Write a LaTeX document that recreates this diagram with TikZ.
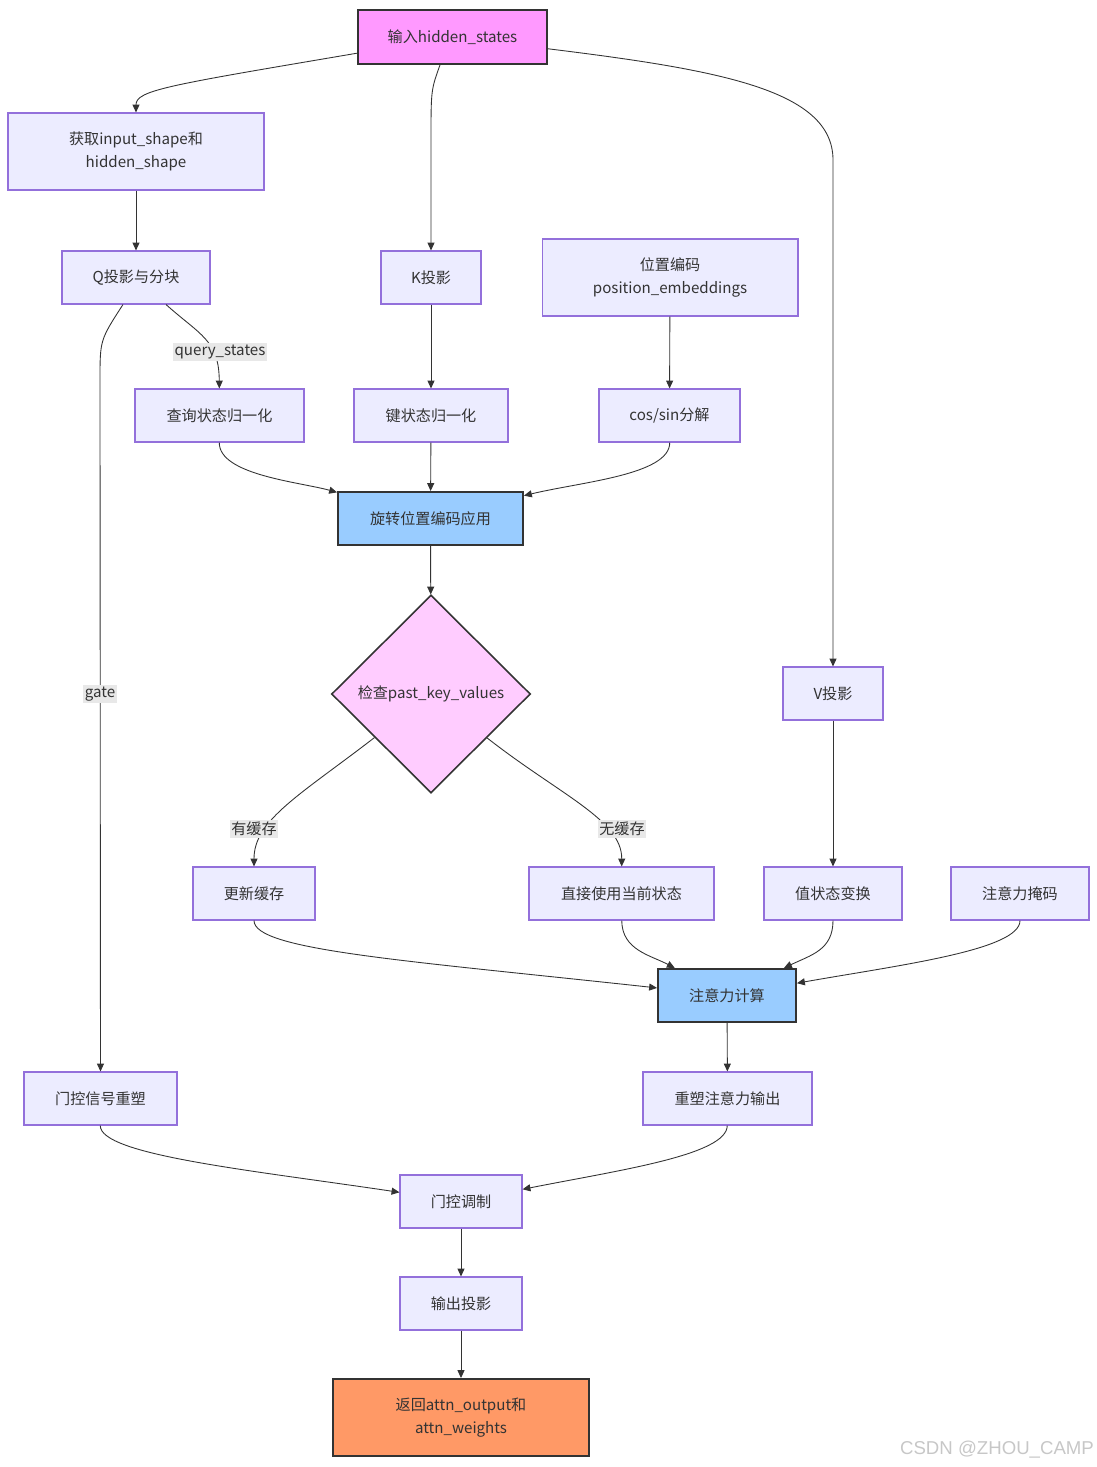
\documentclass[tikz,border=0pt]{standalone}
\usepackage{fontspec}
\setmainfont{Noto Sans CJK SC}
\newfontfamily\markfont{Liberation Sans}
\usetikzlibrary{shapes.geometric,arrows.meta}
\definecolor{boxfill}{HTML}{ECECFF}
\definecolor{boxline}{HTML}{9370DB}
\definecolor{inkgray}{HTML}{333333}
\definecolor{pinkfill}{HTML}{FF99FF}
\definecolor{bluefill}{HTML}{99CCFF}
\definecolor{decfill}{HTML}{FFCCFF}
\definecolor{orangefill}{HTML}{FF9966}
\definecolor{lblfill}{HTML}{E8E8E8}

\begin{document}
\begin{tikzpicture}[x=0.02cm,y=0.02cm,
    font=\fontsize{8.6}{13.5}\selectfont, text=inkgray,
    >={Triangle[length=4.5pt,width=4pt]},
    flow/.style={->,draw=inkgray,line width=0.5pt},
    box/.style={draw=boxline,fill=boxfill,line width=0.6pt,inner sep=0pt,align=center,minimum height=1.06cm},
    tallbox/.style={box,minimum height=1.54cm},
    keybox/.style={box,draw=inkgray,fill=bluefill,line width=1.1pt},
    startbox/.style={box,draw=inkgray,fill=pinkfill,line width=1.1pt,minimum height=1.08cm},
    endbox/.style={tallbox,draw=inkgray,fill=orangefill,line width=1.1pt},
    decide/.style={diamond,draw=inkgray,fill=decfill,line width=0.9pt,inner sep=0pt,minimum width=3.98cm,minimum height=3.96cm},
    lbl/.style={fill=lblfill,inner sep=1pt}]
  \useasboundingbox (0,0) rectangle (1097,-1467);

  % nodes
  \node[startbox,minimum width=3.78cm] (input) at (452.5,-37) {输入hidden\_states};
  \node[tallbox,minimum width=5.12cm] (shape) at (136,-151.5) {获取input\_shape和\\hidden\_shape};
  \node[box,minimum width=2.96cm] (qproj) at (136,-277.5) {Q投影与分块};
  \node[box,minimum width=2cm] (kproj) at (431,-277.5) {K投影};
  \node[tallbox,minimum width=5.12cm] (posemb) at (670,-277.5) {位置编码\\position\_embeddings};
  \node[box,minimum width=3.38cm] (qnorm) at (219.5,-415.5) {查询状态归一化};
  \node[box,minimum width=3.08cm] (knorm) at (431,-415.5) {键状态归一化};
  \node[box,minimum width=2.82cm] (cossin) at (669.5,-415.5) {cos/sin分解};
  \node[keybox,minimum width=3.7cm] (rope) at (430.5,-518.5) {旋转位置编码应用};
  \node[decide] (check) at (431,-694) {检查past\_key\_values};
  \node[box,minimum width=2cm] (vproj) at (833,-693.5) {V投影};
  \node[box,minimum width=2.44cm] (update) at (254,-893.5) {更新缓存};
  \node[box,minimum width=3.7cm] (direct) at (621.5,-893.5) {直接使用当前状态};
  \node[box,minimum width=2.76cm] (vtrans) at (833,-893.5) {值状态变换};
  \node[box,minimum width=2.76cm] (mask) at (1020,-893.5) {注意力掩码};
  \node[keybox,minimum width=2.76cm] (attn) at (727,-995.5) {注意力计算};
  \node[box,minimum width=3.06cm] (gatesig) at (100.5,-1098.5) {门控信号重塑};
  \node[box,minimum width=3.38cm] (attnout) at (727.5,-1098.5) {重塑注意力输出};
  \node[box,minimum width=2.44cm] (gatemod) at (461,-1201.5) {门控调制};
  \node[box,minimum width=2.44cm] (outproj) at (461,-1303.5) {输出投影};
  \node[endbox,minimum width=5.12cm] (result) at (461,-1417.5) {返回attn\_output和\\attn\_weights};

  % connectors
  \path[flow] (input) .. controls (170,-85) and (136,-90) .. (shape);
  \path[flow] ([xshift=-0.25cm]input.south) .. controls (431,-90) .. (431,-140) -- (kproj);
  \path[flow] (input) .. controls (720,-70) and (833,-90) .. (833,-160) -- (vproj);
  \path[flow] (shape) -- (qproj);
  \path[flow] ([xshift=0.6cm]qproj.south) .. controls (200,-335) and (219,-340) .. (qnorm);
  \path[flow] ([xshift=-0.26cm]qproj.south) .. controls (100,-340) .. (100,-380) -- (gatesig);
  \path[flow] (kproj) -- (knorm);
  \path[flow] (posemb) -- (cossin);
  \path[flow] (qnorm) .. controls (219,-475) and (300,-482) .. (rope);
  \path[flow] (knorm) -- (rope);
  \path[flow] (cossin) .. controls (670,-475) and (580,-482) .. (rope);
  \path[flow] (rope) -- (check);
  \path[flow] (check) .. controls (300,-795) and (254,-820) .. (update);
  \path[flow] (check) .. controls (560,-795) and (622,-820) .. (direct);
  \path[flow] (vproj) -- (vtrans);
  \path[flow] (update) .. controls (254,-950) and (400,-960) .. (attn);
  \path[flow] (direct) .. controls (622,-950) and (650,-955) .. (attn);
  \path[flow] (vtrans) .. controls (833,-950) and (811,-955) .. (attn);
  \path[flow] (mask) .. controls (1020,-950) and (900,-965) .. (attn);
  \path[flow] (attn) -- (attnout);
  \path[flow] (gatesig) .. controls (100,-1155) and (250,-1170) .. (gatemod);
  \path[flow] (attnout) .. controls (727,-1155) and (620,-1170) .. (gatemod);
  \path[flow] (gatemod) -- (outproj);
  \path[flow] (outproj) -- (result);

  % edge labels
  \node[lbl] (lblquery) at (220,-352) {query\_states};
  \node[lbl] (lblgate) at (100,-694) {gate};
  \node[lbl] (lblhit) at (254,-829) {有缓存};
  \node[lbl] (lblmiss) at (622,-829) {无缓存};

  \node[text=black!22,font=\markfont\fontsize{10.6}{13}\selectfont] (mark) at (997,-1450) {CSDN @ZHOU\_CAMP};
\end{tikzpicture}
\end{document}
